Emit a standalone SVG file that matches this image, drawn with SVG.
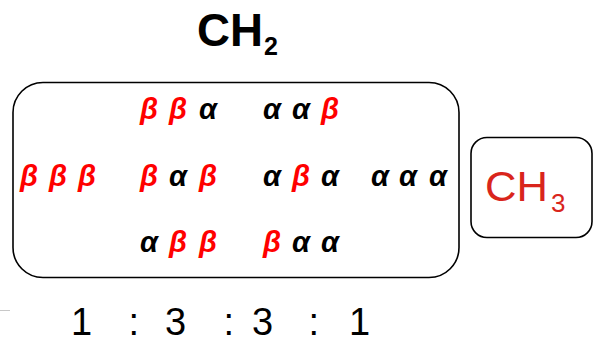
<svg xmlns="http://www.w3.org/2000/svg" width="603" height="340" viewBox="0 0 603 340">
  <style>
    .box { fill: none; stroke: #000; stroke-width: 1.6; }
    .spin { font-family: "Liberation Sans", Arial, sans-serif; font-size: 29px; font-weight: bold; font-style: italic; }
    .b { fill: #ff0000; }
    .a { fill: #000; }
    .label { font-family: "Liberation Sans", Arial, sans-serif; }
    .ratio { font-family: "Liberation Sans", Arial, sans-serif; font-size: 38px; fill: #000; }
  </style>

  <!-- CH2 heading -->
  <g id="ch2-label">
    <text class="label" x="197" y="46" font-size="46" font-weight="bold" fill="#000" textLength="66" lengthAdjust="spacingAndGlyphs">CH</text>
    <text class="label" x="264" y="55" font-size="25" font-weight="bold" fill="#000">2</text>
  </g>

  <!-- CH2 group: spin states of the three methyl protons -->
  <g id="ch2-box">
    <rect class="box" x="13" y="82.5" width="446" height="195" rx="30" ry="30"/>
    <g class="spin">
      <!-- all beta -->
      <text y="186"><tspan class="b" x="20">β</tspan><tspan class="b" x="49">β</tspan><tspan class="b" x="78">β</tspan></text>
      <!-- two beta, one alpha -->
      <text y="119"><tspan class="b" x="140">β</tspan><tspan class="b" x="169">β</tspan><tspan class="a" x="199">α</tspan></text>
      <text y="186"><tspan class="b" x="140">β</tspan><tspan class="a" x="169">α</tspan><tspan class="b" x="199">β</tspan></text>
      <text y="252"><tspan class="a" x="140">α</tspan><tspan class="b" x="169">β</tspan><tspan class="b" x="199">β</tspan></text>
      <!-- one beta, two alpha -->
      <text y="119"><tspan class="a" x="263">α</tspan><tspan class="a" x="292">α</tspan><tspan class="b" x="321">β</tspan></text>
      <text y="186"><tspan class="a" x="263">α</tspan><tspan class="b" x="292">β</tspan><tspan class="a" x="321">α</tspan></text>
      <text y="252"><tspan class="b" x="263">β</tspan><tspan class="a" x="292">α</tspan><tspan class="a" x="321">α</tspan></text>
      <!-- all alpha -->
      <text y="186"><tspan class="a" x="371">α</tspan><tspan class="a" x="399">α</tspan><tspan class="a" x="429">α</tspan></text>
    </g>
  </g>

  <!-- CH3 node -->
  <g id="ch3">
    <rect class="box" x="471" y="137.5" width="121" height="100" rx="16" ry="16"/>
    <text class="label" x="485" y="201" font-size="42" fill="#d9251c" textLength="63" lengthAdjust="spacingAndGlyphs">CH</text>
    <text class="label" x="551" y="212" font-size="26" fill="#d9251c">3</text>
  </g>

  <!-- intensity ratio -->
  <g id="ratio" class="ratio">
    <text x="71" y="335">1</text>
    <text x="128.5" y="335">:</text>
    <text x="165" y="335">3</text>
    <text x="223.5" y="335">:</text>
    <text x="252" y="335">3</text>
    <text x="308.5" y="335">:</text>
    <text x="349" y="335">1</text>
  </g>

  <line x1="0" y1="310.5" x2="10" y2="310.5" stroke="#c8c8c8" stroke-width="1"/>
</svg>
